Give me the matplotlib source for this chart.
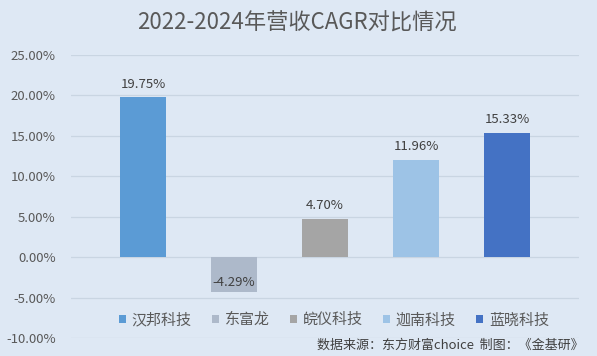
import matplotlib
matplotlib.use("Agg")
import matplotlib.pyplot as plt
from matplotlib.patches import Patch

plt.rcParams['font.family'] = ['Noto Sans CJK SC', 'DejaVu Sans']

companies = ["汉邦科技", "东富龙", "皖仪科技", "迦南科技", "蓝晓科技"]
cagr = [19.75, -4.29, 4.70, 11.96, 15.33]
colors = ["#5B9BD5", "#ADB9CA", "#A5A5A5", "#9DC3E6", "#4472C4"]
yticks = [-10, -5, 0, 5, 10, 15, 20, 25]
title = "2022-2024年营收CAGR对比情况"
source = "数据来源：东方财富choice  制图：《金基研》"

W, H = 597, 356
bg = "#DEE8F4"
fig = plt.figure(figsize=(W / 100, H / 100), dpi=100, facecolor=bg)
ax = fig.add_axes([71 / W, 1 - 338 / H, (579 - 71) / W, (338 - 55) / H])
ax.set_facecolor(bg)

xs = list(range(len(companies)))
bars = ax.bar(xs, cagr, width=0.505, color=colors, zorder=3)

ax.set_xlim(-0.791, 4.791)
ax.set_ylim(-10, 25)
ax.set_yticks(yticks)
ax.set_yticklabels([f"{v:.2f}%" for v in yticks], fontsize=9.5, color="#595959")
ax.tick_params(axis='y', length=0, pad=11)
ax.set_xticks([])
ax.grid(axis='y', color="#C9D5E2", linewidth=0.9, zorder=0)
for s in ax.spines.values():
    s.set_visible(False)

for x, v in zip(xs, cagr):
    if v >= 0:
        ax.annotate(f"{v:.2f}%", (x, v), xytext=(0, 5), textcoords="offset points",
                    ha="center", va="bottom", fontsize=9.5, color="#404040")
    else:
        ax.annotate(f"{v:.2f}%", (x, v), xytext=(0, 7), textcoords="offset points",
                    ha="center", va="center", fontsize=9.5, color="#404040", zorder=5)

fig.text(297 / W, 1 - 23 / H, title, ha="center", va="center", fontsize=16, color="#595959")

handles = [Patch(facecolor=c, label=n) for c, n in zip(colors, companies)]
fig.legend(handles=handles, loc="center", bbox_to_anchor=(334 / W, 1 - 320 / H), ncol=5,
           frameon=False, fontsize=10.8, handlelength=0.45, handleheight=0.45,
           handletextpad=0.4, columnspacing=1.35, labelcolor="#595959",
           borderpad=0, borderaxespad=0)

fig.text(584 / W, 1 - 345 / H, source, ha="right", va="center", fontsize=9.4, color="#404040")

fig.savefig("out.png", dpi=100, facecolor=bg)
